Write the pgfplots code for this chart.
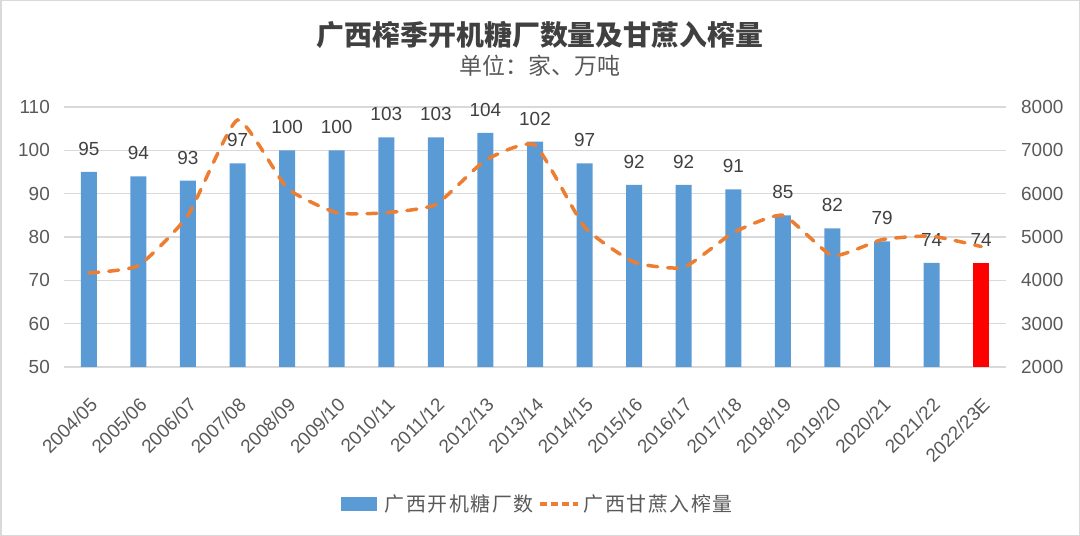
\documentclass[border=0pt]{standalone}
\usepackage{pgfplots}
\pgfplotsset{compat=1.18}
\usepackage{fontspec}
\setmainfont{Liberation Sans}
\newfontfamily\cjk{Noto Sans CJK SC}
\newfontfamily\cjkl[LetterSpace=8]{Noto Sans CJK SC}
\definecolor{barblue}{HTML}{5B9BD5}
\definecolor{lineor}{HTML}{ED7D31}
\definecolor{txt}{HTML}{595959}
\definecolor{lbl}{HTML}{404040}
\definecolor{gridc}{HTML}{D9D9D9}

\begin{document}
\begin{tikzpicture}
\draw[gridc, line width=1.5bp] (0.75bp,0.75bp) rectangle (1079.25bp,535.25bp);
\node[font=\cjk\fontsize{28}{30}\selectfont\bfseries, text=lbl] at (540bp,501bp) {广西榨季开机糖厂数量及甘蔗入榨量};
\node[font=\cjk\fontsize{23}{26}\selectfont, text=txt] at (540bp,470bp) {单位：家、万吨};

\begin{axis}[
  at={(64bp,169bp)}, anchor=south west, scale only axis,
  width=942bp, height=260bp,
  xmin=-0.5, xmax=18.5, ymin=50, ymax=110,
  ytick={50,60,...,110},
  xtick={0,...,18},
  xticklabels={2004/05,2005/06,2006/07,2007/08,2008/09,2009/10,2010/11,2011/12,2012/13,2013/14,2014/15,2015/16,2016/17,2017/18,2018/19,2019/20,2020/21,2021/22,2022/23E},
  ybar, bar width=16bp, bar shift=0pt,
  axis line style={draw=none},
  tick style={draw=none},
  ymajorgrids, grid style={gridc, line width=1.3bp},
  /pgf/number format/assume math mode=true,
  /pgf/number format/1000 sep={},
  yticklabel style={font=\fontsize{19}{20}\selectfont, text=txt, inner sep=0pt},
  yticklabel shift=14bp,
  xticklabel style={font=\fontsize{19}{20}\selectfont, text=txt, rotate=45, anchor=north east, inner sep=0pt},
  xticklabel shift=25bp,
  nodes near coords,
  nodes near coords style={font=\fontsize{19}{20}\selectfont, text=lbl, inner sep=0pt, anchor=south, yshift=16bp},
  legend columns=2,
  legend style={draw=none, fill=none, at={(0.503,-0.527)}, anchor=center,
    font=\cjkl\fontsize{20}{22}\selectfont, text=txt,
    /tikz/every even column/.append style={column sep=2bp}},
]
\addplot[fill=barblue, draw=none,
  legend image code/.code={\fill[barblue] (0bp,-7bp) rectangle (36bp,7bp); \path (42bp,0bp);}]
  coordinates {(0,95) (1,94) (2,93) (3,97) (4,100) (5,100) (6,103) (7,103) (8,104) (9,102) (10,97) (11,92) (12,92) (13,91) (14,85) (15,82) (16,79) (17,74)};
\addlegendentry{广西开机糖厂数}
\addplot[fill=red, draw=none, forget plot] coordinates {(18,74)};
\addlegendimage{legend image code/.code={\draw[lineor, line width=3.5bp, dash pattern=on 7bp off 4bp] (0bp,0bp) -- (38bp,0bp); \path (42bp,0bp);}}
\addlegendentry{广西甘蔗入榨量}
\end{axis}

\begin{axis}[
  at={(64bp,169bp)}, anchor=south west, scale only axis,
  width=942bp, height=260bp,
  xmin=-0.5, xmax=18.5, ymin=2000, ymax=8000,
  ytick={2000,3000,...,8000},
  hide x axis,
  axis y line*=right,
  axis line style={draw=none},
  tick style={draw=none},
  /pgf/number format/assume math mode=true,
  /pgf/number format/1000 sep={},
  yticklabel style={font=\fontsize{19}{20}\selectfont, text=txt, inner sep=0pt},
  yticklabel shift=15bp,
]
\addplot[lineor, line width=3.5bp, dash pattern=on 10bp off 10bp, line cap=round, smooth, tension=0.3]
  coordinates {(0,4170) (1,4340) (2,5500) (3,7700) (4,6130) (5,5560) (6,5560) (7,5750) (8,6770) (9,7120) (10,5230) (11,4420) (12,4300) (13,5100) (14,5500) (15,4570) (16,4940) (17,5020) (18,4780)};
\end{axis}
\end{tikzpicture}
\end{document}
